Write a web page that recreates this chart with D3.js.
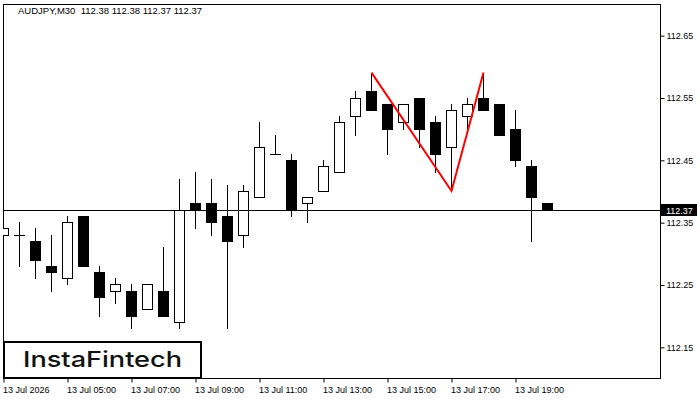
<!DOCTYPE html>
<html>
<head>
<meta charset="utf-8">
<script src="https://cdn.jsdelivr.net/npm/d3@7"></script>
<style>
  body { margin: 0; background: #ffffff; }
  svg { display: block; }
</style>
</head>
<body>
<div id="svgdiv"></div>
<script>
// Step 1: Data
var times = ["03:00", "03:30", "04:00", "04:30", "05:00", "05:30", "06:00", "06:30", "07:00", "07:30",
             "08:00", "08:30", "09:00", "09:30", "10:00", "10:30", "11:00", "11:30", "12:00", "12:30",
             "13:00", "13:30", "14:00", "14:30", "15:00", "15:30", "16:00", "16:30", "17:00", "17:30",
             "18:00", "18:30", "19:00", "19:30", "20:00"];
var opens  = [112.33, 112.33, 112.32, 112.28, 112.26, 112.36, 112.27, 112.24, 112.24, 112.21,
              112.24, 112.19, 112.38, 112.38, 112.36, 112.33, 112.39, 112.46, 112.45, 112.38,
              112.40, 112.43, 112.52, 112.56, 112.54, 112.51, 112.55, 112.51, 112.47, 112.52,
              112.55, 112.54, 112.50, 112.44, 112.38];
var highs  = [112.38, 112.35, 112.34, 112.33, 112.36, 112.36, 112.28, 112.26, 112.25, 112.25,
              112.31, 112.42, 112.43, 112.42, 112.41, 112.41, 112.51, 112.49, 112.46, 112.39,
              112.45, 112.52, 112.56, 112.59, 112.54, 112.54, 112.55, 112.52, 112.54, 112.55,
              112.59, 112.54, 112.53, 112.45, 112.38];
var lows   = [112.32, 112.28, 112.26, 112.24, 112.25, 112.28, 112.20, 112.22, 112.18, 112.21,
              112.20, 112.18, 112.34, 112.33, 112.18, 112.31, 112.39, 112.46, 112.36, 112.35,
              112.40, 112.43, 112.49, 112.53, 112.46, 112.50, 112.47, 112.43, 112.40, 112.50,
              112.53, 112.49, 112.44, 112.32, 112.37];
var closes = [112.34, 112.33, 112.29, 112.27, 112.35, 112.28, 112.23, 112.25, 112.20, 112.25,
              112.20, 112.37, 112.37, 112.35, 112.32, 112.40, 112.47, 112.46, 112.37, 112.39,
              112.44, 112.51, 112.55, 112.53, 112.50, 112.54, 112.50, 112.46, 112.53, 112.54,
              112.53, 112.49, 112.45, 112.39, 112.37];

// double top pattern (bar index, price)
var patternIdx = [23, 28, 30];
var patternPrice = [112.59, 112.40, 112.59];

var priceTicks = [112.15, 112.25, 112.35, 112.45, 112.55, 112.65];
var timeTickIdx = [0, 4, 8, 12, 16, 20, 24, 28, 32];
var timeTickLabels = ["13 Jul 2026", "13 Jul 05:00", "13 Jul 07:00", "13 Jul 09:00", "13 Jul 11:00",
                      "13 Jul 13:00", "13 Jul 15:00", "13 Jul 17:00", "13 Jul 19:00"];
var lastPrice = 112.37;
var titleText = "AUDJPY,M30  112.38 112.38 112.37 112.37";

var bars = times.map(function(t, i) {
    return { t: t, i: i, o: opens[i], h: highs[i], l: lows[i], c: closes[i] };
});

// Step 2: Chart frame
var svgWidth = 700;
var svgHeight = 400;
var plot = { left: 3, right: 660, top: 4, bottom: 378 };

var svg = d3.select("#svgdiv")
    .append("svg")
    .attr("width", svgWidth)
    .attr("height", svgHeight)
    .style("background", "#ffffff");

// Step 3: Scales
var xScale = d3.scaleLinear()
    .domain([0, 41])
    .range([plot.left, plot.left + 16 * 41]);

var yScale = d3.scaleLinear()
    .domain([112.10, 112.70])
    .range([plot.bottom, plot.top]);

svg.append("defs").append("clipPath")
    .attr("id", "plotclip")
    .append("rect")
    .attr("x", plot.left)
    .attr("y", plot.top)
    .attr("width", plot.right - plot.left)
    .attr("height", plot.bottom - plot.top);

// Step 4: Axes
var rightAxis = d3.axisRight(yScale)
    .tickValues(priceTicks)
    .tickSize(4)
    .tickPadding(2)
    .tickFormat(d3.format(".2f"));

var yAxis = svg.append("g")
    .attr("transform", `translate(${plot.right + 0.5}, 0.5)`)
    .call(rightAxis);

var bottomAxis = d3.axisBottom(xScale)
    .tickValues(timeTickIdx)
    .tickSize(4)
    .tickFormat(function(d, k) { return timeTickLabels[k]; });

var xAxis = svg.append("g")
    .attr("transform", `translate(0.5, ${plot.bottom + 0.5})`)
    .call(bottomAxis);

[yAxis, xAxis].forEach(function(ax) {
    ax.select(".domain").remove();
    ax.selectAll("line").attr("stroke", "#000");
    ax.selectAll("text")
        .attr("fill", "#000")
        .style("font-family", "'Liberation Sans', Arial, sans-serif")
        .style("font-size", "9px");
});
xAxis.selectAll("text")
    .attr("text-anchor", "start")
    .attr("x", -1)
    .attr("y", 8);

// frame
svg.append("rect")
    .attr("x", plot.left + 0.5)
    .attr("y", plot.top + 0.5)
    .attr("width", plot.right - plot.left)
    .attr("height", plot.bottom - plot.top)
    .attr("fill", "none")
    .attr("stroke", "#000")
    .attr("stroke-width", 1);

// Step 5: Candles
var candleGroup = svg.append("g").attr("clip-path", "url(#plotclip)");

var candles = candleGroup.selectAll("g.candle")
    .data(bars)
    .enter()
    .append("g")
    .attr("class", "candle");

candles.append("line")
    .attr("x1", d => Math.round(xScale(d.i)) + 0.5)
    .attr("x2", d => Math.round(xScale(d.i)) + 0.5)
    .attr("y1", d => Math.round(yScale(d.h)))
    .attr("y2", d => Math.round(yScale(d.l)) + 1)
    .attr("stroke", "#000")
    .attr("stroke-width", 1);

// bodies: white = up bar with outline, black = down bar, doji = flat dash
function bodyTop(d) { return Math.round(yScale(Math.max(d.o, d.c))); }
function bodyH(d) { return Math.round(yScale(Math.min(d.o, d.c))) - bodyTop(d); }
function isUp(d) { return d.c > d.o; }

candles.append("rect")
    .attr("x", d => Math.round(xScale(d.i)) - 5 + (isUp(d) ? 0.5 : 0))
    .attr("y", d => bodyTop(d) + (isUp(d) ? 0.5 : 0))
    .attr("width", d => isUp(d) ? 10 : 11)
    .attr("height", d => isUp(d) ? bodyH(d) : bodyH(d) + 1)
    .attr("fill", d => isUp(d) ? "#ffffff" : "#000000")
    .attr("stroke", d => isUp(d) ? "#000000" : "none")
    .attr("stroke-width", 1);

// Step 6: Last price line and label
var yLast = Math.round(yScale(lastPrice)) + 0.5;
svg.append("line")
    .attr("x1", plot.left)
    .attr("x2", plot.right)
    .attr("y1", yLast)
    .attr("y2", yLast)
    .attr("stroke", "#000")
    .attr("stroke-width", 1);

svg.append("rect")
    .attr("x", plot.right + 1)
    .attr("y", yLast - 6.5)
    .attr("width", 36)
    .attr("height", 12)
    .attr("fill", "#000");

svg.append("text")
    .attr("x", plot.right + 6)
    .attr("y", yLast + 3.5)
    .attr("fill", "#fff")
    .style("font-family", "'Liberation Sans', Arial, sans-serif")
    .style("font-size", "9px")
    .text(d3.format(".2f")(lastPrice));

// Step 7: Double top pattern
var patternLine = d3.line()
    .x(d => xScale(d[0]) + 0.5)
    .y(d => yScale(d[1]));

svg.append("path")
    .datum(patternIdx.map((d, k) => [d, patternPrice[k]]))
    .attr("d", patternLine)
    .attr("fill", "none")
    .attr("stroke", "#ff0000")
    .attr("stroke-width", 2);

// Step 8: Title and logo
svg.append("text")
    .attr("x", 18)
    .attr("y", 14)
    .attr("fill", "#000")
    .style("font-family", "'Liberation Sans', Arial, sans-serif")
    .style("font-size", "9.5px")
    .style("white-space", "pre")
    .text(titleText);

svg.append("rect")
    .attr("x", 4)
    .attr("y", 342)
    .attr("width", 197)
    .attr("height", 36)
    .attr("fill", "#ffffff")
    .attr("stroke", "#000")
    .attr("stroke-width", 2);

svg.append("text")
    .attr("x", 23)
    .attr("y", 367)
    .attr("fill", "#111")
    .attr("textLength", 159)
    .attr("lengthAdjust", "spacingAndGlyphs")
    .style("font-family", "Inter, 'Noto Sans', sans-serif")
    .style("font-weight", "500")
    .style("font-size", "22px")
    .text("InstaFintech");
</script>
</body>
</html>
